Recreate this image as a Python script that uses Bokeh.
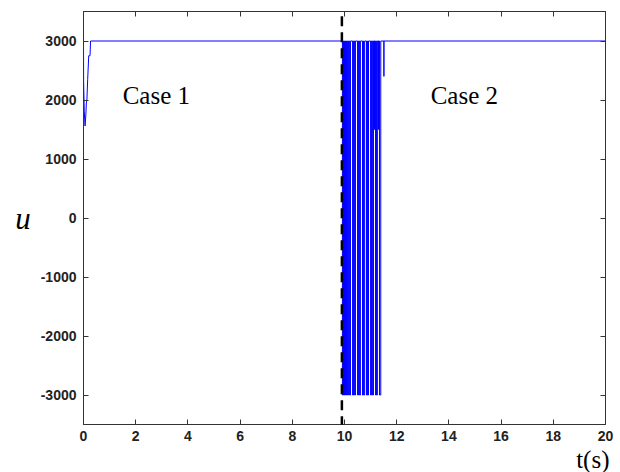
from bokeh.plotting import figure
from bokeh.models import Range1d, LinearAxis, FixedTicker, Label, Arrow, Title
from bokeh.embed import file_html
from bokeh.resources import INLINE

# ---- data ----
# start-up transient (Case 1)
t_start = [0.0, 0.005, 0.03, 0.06, 0.09, 0.11, 0.13, 0.16, 0.20, 0.25, 0.27]
u_start = [3000, 2300, 1800, 1560, 1750, 1950, 2000, 2350, 2750, 2750, 3000]

# chattering after the disturbance (Case 2): pulses away from the 3000 saturation level
pulse_on = [9.92, 9.96, 10.00, 10.04, 10.08, 10.12, 10.16, 10.20,
            10.31, 10.35, 10.39,
            10.50, 10.54, 10.58,
            10.69, 10.73,
            10.84, 10.88,
            11.00, 11.04, 11.08,
            11.15,
            11.19, 11.23,
            11.30,
            11.34,
            11.51]
pulse_off = [9.94, 9.98, 10.02, 10.06, 10.10, 10.14, 10.18, 10.23,
             10.33, 10.37, 10.42,
             10.52, 10.56, 10.61,
             10.71, 10.77,
             10.86, 10.92,
             11.02, 11.06, 11.11,
             11.15,
             11.21, 11.26,
             11.30,
             11.39,
             11.51]
pulse_low = [-3000, -3000, -3000, -3000, -3000, -3000, -3000, -3000,
             -3000, -3000, -3000,
             -3000, -3000, -3000,
             -3000, -3000,
             -3000, -3000,
             -3000, -3000, -3000,
             1500,
             -3000, -3000,
             1500,
             -3000,
             2400]
u_sat = 3000
t_end = 20.0

switch_t = 9.9  # dashed separator between Case 1 and Case 2

x_ticks = [0, 2, 4, 6, 8, 10, 12, 14, 16, 18, 20]
y_ticks = [-3000, -2000, -1000, 0, 1000, 2000, 3000]
y_tick_labels = ["-3000", "-2000", "-1000", "0", "1000", "2000", "3000"]
x_lim = (0, 20)
y_lim = (-3500, 3500)

# ---- build the step series ----
t = list(t_start)
u = list(u_start)
for on, off, low in zip(pulse_on, pulse_off, pulse_low):
    t += [on, on, off, off]
    u += [u_sat, low, low, u_sat]
t.append(t_end)
u.append(u_sat)

# ---- figure ----
p = figure(width=620, height=472, output_backend="svg", toolbar_location=None,
           x_range=Range1d(*x_lim), y_range=Range1d(*y_lim),
           min_border_left=83, min_border_right=15, min_border_top=11,
           min_border_bottom=48)
p.background_fill_color = "white"
p.border_fill_color = "white"
p.outline_line_color = "#333333"
p.outline_line_width = 1
p.xgrid.visible = False
p.ygrid.visible = False

tick_font = "Liberation Sans"

for ax in p.xaxis:
    ax.ticker = FixedTicker(ticks=x_ticks)
for ax in p.yaxis:
    ax.ticker = FixedTicker(ticks=y_ticks)
    ax.major_label_overrides = {v: s for v, s in zip(y_ticks, y_tick_labels)}

for ax in list(p.xaxis) + list(p.yaxis):
    ax.major_tick_in = 5
    ax.major_tick_out = 0
    ax.minor_tick_in = 0
    ax.minor_tick_out = 0
    ax.axis_line_color = "#333333"
    ax.major_tick_line_color = "#333333"
    ax.major_label_text_font = tick_font
    ax.major_label_text_font_size = "14px"
    ax.major_label_text_font_style = "bold"
    ax.major_label_text_color = "#222222"
p.xaxis.major_label_standoff = 6
p.yaxis.major_label_standoff = 7

# y axis title "u"
p.yaxis.axis_label = "u"
p.yaxis.axis_label_orientation = "horizontal"
p.yaxis.axis_label_text_font = "Liberation Serif"
p.yaxis.axis_label_text_font_style = "italic"
p.yaxis.axis_label_text_font_size = "31px"
p.yaxis.axis_label_text_color = "black"
p.yaxis.axis_label_standoff = 7

# mirrored ticks on top and right (no labels)
top_ax = LinearAxis(ticker=FixedTicker(ticks=x_ticks), major_tick_in=5, major_tick_out=0,
                    minor_tick_in=0, minor_tick_out=0,
                    major_label_overrides={v: "" for v in x_ticks},
                    major_label_standoff=0, axis_line_color="#333333",
                    major_tick_line_color="#333333")
right_ax = LinearAxis(ticker=FixedTicker(ticks=y_ticks), major_tick_in=5, major_tick_out=0,
                      minor_tick_in=0, minor_tick_out=0,
                      major_label_overrides={v: "" for v in y_ticks},
                      major_label_standoff=0, axis_line_color="#333333",
                      major_tick_line_color="#333333")
p.add_layout(top_ax, "above")
p.add_layout(right_ax, "right")

# x axis title "t(s)" at the right end, below the tick labels
p.add_layout(Title(text="t(s)", align="right", text_font="Liberation Serif",
                   text_font_size="25px", text_font_style="normal",
                   text_color="black", standoff=0, offset=-4), "below")

# signal
p.line(t, u, line_color="#0000ff", line_width=1)

# dashed separator
p.add_layout(Arrow(end=None, x_start=switch_t, y_start=y_lim[1] + 190,
                   x_end=switch_t, y_end=y_lim[0] - 70,
                   line_color="black", line_width=2.5, line_dash="10 6"))

# case labels
for txt, xx in [("Case 1", 1.5), ("Case 2", 13.3)]:
    p.add_layout(Label(x=xx, y=2080, text=txt, text_font="Liberation Serif",
                       text_font_size="25px", text_color="black",
                       text_baseline="alphabetic", text_align="left"))

open("out.html", "w").write(file_html(p, INLINE))
